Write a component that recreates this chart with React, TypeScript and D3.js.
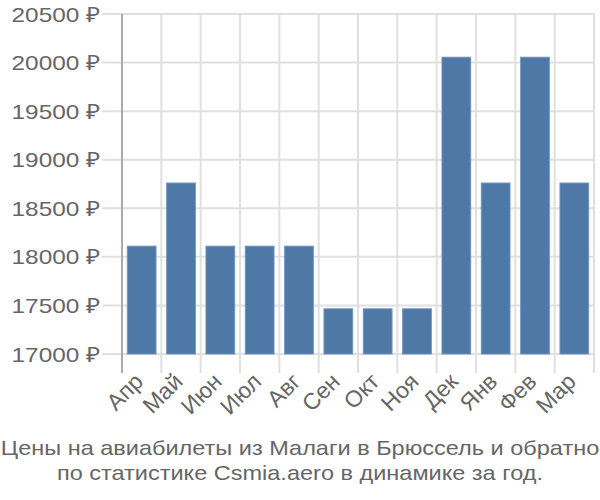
import React from "react";
import * as d3 from "d3";

const months = ["Апр", "Май", "Июн", "Июл", "Авг", "Сен", "Окт", "Ноя", "Дек", "Янв", "Фев", "Мар"];
const prices = [18110, 18760, 18110, 18110, 18110, 17465, 17465, 17465, 20055, 18760, 20055, 18760];
const yTicks = [17000, 17500, 18000, 18500, 19000, 19500, 20000, 20500];
const titleLines = [
  "Цены на авиабилеты из Малаги в Брюссель и обратно",
  "по статистике Csmia.aero в динамике за год.",
];

export default function App() {
  const W = 600, H = 500;
  const left = 122, right = 594, top = 14, bottom = 354;
  const x = d3.scaleBand<string>().domain(months).range([left, right]).paddingInner(0.27).paddingOuter(0.135);
  const step = x.step();
  const y = d3.scaleLinear().domain([17000, 20500]).range([bottom, top]);
  const font = "'Liberation Sans', Arial, sans-serif";
  const sx = 1.16;
  return (
    <svg width={W} height={H} style={{ position: "absolute", left: 0, top: 0 }} fontFamily={font}>
      <rect x={0} y={0} width={W} height={H} fill="#fff" />
      {yTicks.map((t) => (
        <g key={t}>
          <line x1={102} x2={right} y1={y(t)} y2={y(t)} stroke="#e0e0e0" strokeWidth={2} />
          <text
            transform={`translate(100,${y(t)}) scale(${sx},1)`}
            dy="0.36em"
            textAnchor="end"
            fontSize={21}
            fill="#666"
          >
            {t} ₽
          </text>
        </g>
      ))}
      {months.map((m, i) => {
        const gx = left + step * (i + 1);
        return <line key={m} x1={gx} x2={gx} y1={top} y2={373} stroke="#e0e0e0" strokeWidth={2} />;
      })}
      <line x1={left} x2={left} y1={top} y2={373} stroke="#aaa" strokeWidth={2} />
      {months.map((m, i) => (
        <rect
          key={m}
          x={x(m)!}
          y={y(prices[i])}
          width={x.bandwidth()}
          height={bottom - y(prices[i])}
          fill="#4e79a7"
          stroke="#6f93bd"
          strokeWidth={1}
        />
      ))}
      {months.map((m) => {
        const cx = x(m)! + x.bandwidth() / 2 + 3;
        return (
          <text
            key={m}
            transform={`translate(${cx},${383}) rotate(-45)`}
            textAnchor="end"
            fontSize={23}
            fill="#666"
          >
            {m}
          </text>
        );
      })}
      {titleLines.map((l, i) => (
        <text
          key={i}
          transform={`translate(300,${455 + i * 25}) scale(${1.12},1)`}
          textAnchor="middle"
          fontSize={21}
          fill="#666"
        >
          {l}
        </text>
      ))}
    </svg>
  );
}
